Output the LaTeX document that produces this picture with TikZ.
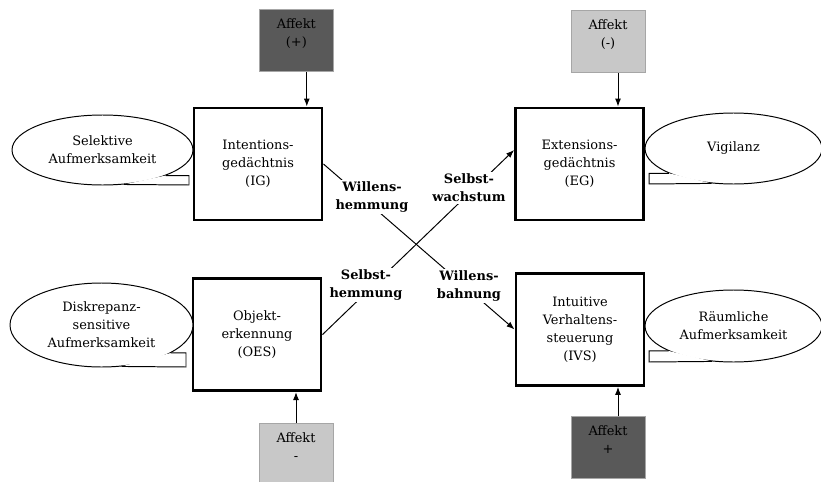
\documentclass[tikz,border=0pt]{standalone}
\usepackage{fontspec}
\setmainfont{DejaVu Serif}
\usetikzlibrary{shapes.geometric,arrows.meta}
\definecolor{affdunkel}{RGB}{89,89,89}
\definecolor{affhell}{RGB}{200,200,200}
\begin{document}
\begin{tikzpicture}[scale=1,
  every node/.style={font=\fontsize{9.2}{12.8}\selectfont},
  system/.style={draw,line width=2.1pt,minimum width=3.2cm,minimum height=2.8cm,align=center},
  affekt/.style={draw=gray!70,line width=0.7pt,minimum width=1.85cm,minimum height=1.55cm,align=center,text depth=0.4cm},
  blase/.style={draw,ellipse,line width=0.7pt,fill=white,align=center,inner sep=1pt},
  weg/.style={font=\fontsize{9.2}{12.8}\selectfont\bfseries,fill=white,inner sep=1.5pt,align=center}]
\useasboundingbox (0,0) rectangle (20.525,12.025);
% die vier Systeme
\node[system] (IG) at (6.45,7.925) {Intentions-\\gedächtnis\\(IG)};
\node[system] (EG) at (14.49,7.925) {Extensions-\\gedächtnis\\(EG)};
\node[system] (OES) at (6.425,3.66) {Objekt-\\erkennung\\(OES)};
\node[system] (IVS) at (14.5,3.79) {Intuitive\\Verhaltens-\\steuerung\\(IVS)};
% Affekte
\node[affekt,fill=affdunkel] (A1) at (7.41,11.01) {Affekt\\(+)};
\node[affekt,fill=affhell] (A2) at (15.2,10.98) {Affekt\\(-)};
\node[affekt,fill=affhell] (A3) at (7.4,0.66) {Affekt\\-};
\node[affekt,fill=affdunkel] (A4) at (15.2,0.83) {Affekt\\+};
\draw[->,>={Latex[length=2mm,width=1.5mm]},line width=0.7pt] ([xshift=2.6mm]A1.south) -- ([xshift=2.6mm]A1.south |- IG.north);
\draw[->,>={Latex[length=2mm,width=1.5mm]},line width=0.7pt] ([xshift=2.5mm]A2.south) -- ([xshift=2.5mm]A2.south |- EG.north);
\draw[->,>={Latex[length=2mm,width=1.5mm]},line width=0.7pt] (A3.north) -- (A3.north |- OES.south);
\draw[->,>={Latex[length=2mm,width=1.5mm]},line width=0.7pt] ([xshift=2.5mm]A4.north) -- ([xshift=2.5mm]A4.north |- IVS.south);
% Sprechblasen
\node[blase,minimum width=4.525cm,minimum height=1.75cm] (sa) at (2.5625,8.275) {Selektive\\Aufmerksamkeit};
\node[blase,minimum width=4.425cm,minimum height=1.775cm] (vig) at (18.3375,8.3125) {Vigilanz};
\node[blase,minimum width=4.575cm,minimum height=2.1cm] (dsa) at (2.5375,3.9) {Diskrepanz-\\sensitive\\Aufmerksamkeit};
\node[blase,minimum width=4.425cm,minimum height=1.8cm] (ra) at (18.3375,3.875) {Räumliche\\Aufmerksamkeit};
\coordinate (t1) at (4.725,7.4);
\coordinate (t2) at (16.225,7.425);
\coordinate (t3) at (4.65,2.85);
\coordinate (t4) at (16.225,2.975);
\draw[line width=0.7pt,fill=white] (sa.-22) -| (t1) -- (sa.-58);
\draw[line width=0.7pt,fill=white] (vig.-159) -| (t2) -- (vig.-122);
\draw[line width=0.7pt,fill=white] (dsa.-22) -| (t3) -- (dsa.-64);
\draw[line width=0.7pt,fill=white] (ra.-159) -| (t4) -- (ra.-121);
% Kreuz der Wege
\draw[->,>={Latex[length=2mm,width=1.5mm]},line width=0.7pt] (IG.east) -- (IVS.west);
\draw[->,>={Latex[length=2mm,width=1.5mm]},line width=0.7pt] (OES.east) -- ([yshift=3.5mm]EG.west);
\node[weg] (wh) at (9.3,7.1) {Willens-\\hemmung};
\node[weg] (wb) at (11.725,4.875) {Willens-\\bahnung};
\node[weg] (sh) at (9.15,4.9) {Selbst-\\hemmung};
\node[weg] (sw) at (11.725,7.325) {Selbst-\\wachstum};
\end{tikzpicture}
\end{document}
